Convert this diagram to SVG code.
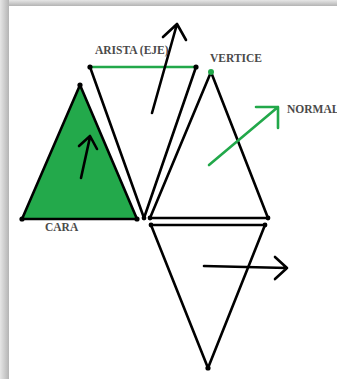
<svg xmlns="http://www.w3.org/2000/svg" width="337" height="379" viewBox="0 0 337 379">
<defs>
<linearGradient id="gTop" x1="0" y1="0" x2="0" y2="1"><stop offset="0" stop-color="#e6e6e6"/><stop offset="1" stop-color="#b4b4b4"/></linearGradient>
<linearGradient id="gLeft" x1="0" y1="0" x2="1" y2="0"><stop offset="0" stop-color="#e6e6e6"/><stop offset="1" stop-color="#b4b4b4"/></linearGradient>
<style>
.e{fill:none;stroke:#000;stroke-width:2.6;stroke-linecap:round;stroke-linejoin:round}
.g{fill:none;stroke:#22a84a;stroke-width:2.6;stroke-linecap:round;stroke-linejoin:round}
.d{fill:#000}
.lbl{font-family:"Liberation Serif",serif;font-size:11.5px;font-weight:bold;fill:#4a4a4a}
</style>
</defs>
<rect x="0" y="0" width="337" height="379" fill="#fff"/>
<rect x="0" y="0" width="337" height="6" fill="url(#gTop)"/>
<rect x="0" y="0" width="9" height="379" fill="url(#gLeft)"/>
<g id="cara">
<polygon points="80,85 22,219 137,219" fill="#23a94b" stroke="#000" stroke-width="2.6" stroke-linejoin="round"/>
<circle class="d" cx="80" cy="85" r="2.6"/><circle class="d" cx="22" cy="219" r="2.6"/><circle class="d" cx="137" cy="219" r="2.6"/>
</g>
<g id="arista">
<polyline class="e" points="90,67 144,218 196,67"/>
<line class="g" x1="90" y1="67" x2="196" y2="67"/>
<circle class="d" cx="90" cy="67" r="2.6"/><circle class="d" cx="196" cy="67" r="2.6"/><circle class="d" cx="144" cy="218" r="2.4"/>
</g>
<g id="vertice">
<polygon class="e" points="211,72 150,218 268,218"/>
<circle cx="211" cy="72" r="3" fill="#22a84a"/>
<circle class="d" cx="150" cy="218" r="2.4"/><circle class="d" cx="268" cy="218" r="2.4"/>
</g>
<g id="inferior">
<polygon class="e" points="151,225 265,225 208,368"/>
<circle class="d" cx="151" cy="225" r="2.4"/><circle class="d" cx="265" cy="225" r="2.4"/><circle class="d" cx="208" cy="368" r="2.6"/>
</g>
<g id="connectors">
<path class="e" d="M81,178 L90,137 M79,146 L90,136 L97,149"/>
<path class="e" d="M152,113 L177,24 M163,37 L177,24 L186,40"/>
<path class="g" d="M209,165 L278,107 M256,107 L278,107 L278,128"/>
<path class="e" d="M204,266 L287,268 M275,257 L287,268 L275,279"/>
</g>
<g id="labels">
<text class="lbl" x="95" y="54">ARISTA (EJE)</text>
<text class="lbl" x="210" y="62">VERTICE</text>
<text class="lbl" x="287" y="113">NORMAL</text>
<text class="lbl" x="45" y="231">CARA</text>
</g>
</svg>
